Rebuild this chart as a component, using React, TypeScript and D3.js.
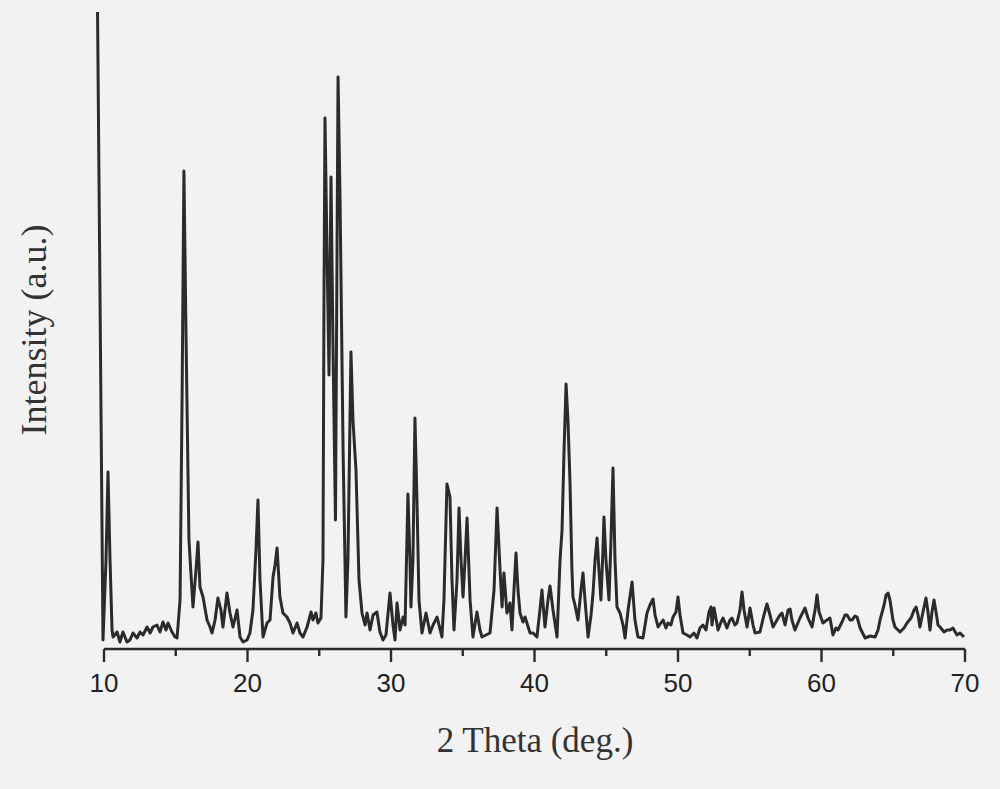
import React from "react";
import * as d3 from "d3";

// 2θ (deg) positions of the sampled points
const twoTheta: number[] = [
  9.55, 9.93, 10.14, 10.28, 10.42, 10.56, 10.63, 10.91, 11.11, 11.32, 11.6, 11.81, 12.02, 12.3, 12.51, 12.72,
  13.0, 13.21, 13.41, 13.69, 13.9, 14.11, 14.32, 14.46, 14.74, 14.95, 15.09, 15.3, 15.44, 15.57, 15.71, 15.92,
  16.2, 16.41, 16.55, 16.69, 16.9, 17.18, 17.39, 17.53, 17.74, 17.94, 18.15, 18.29, 18.57, 18.78, 18.99, 19.27,
  19.48, 19.69, 19.97, 20.17, 20.38, 20.59, 20.73, 20.87, 21.08, 21.36, 21.57, 21.78, 21.92, 22.06, 22.26, 22.47,
  22.75, 22.96, 23.17, 23.45, 23.66, 23.87, 24.15, 24.43, 24.56, 24.77, 24.91, 25.12, 25.26, 25.33, 25.4, 25.54,
  25.68, 25.82, 25.96, 26.13, 26.24, 26.31, 26.45, 26.66, 26.86, 27.0, 27.21, 27.35, 27.42, 27.56, 27.77, 27.98,
  28.19, 28.33, 28.54, 28.75, 29.02, 29.23, 29.44, 29.65, 29.93, 30.14, 30.28, 30.42, 30.63, 30.84, 30.98, 31.18,
  31.32, 31.39, 31.53, 31.67, 31.81, 31.95, 32.16, 32.44, 32.72, 32.93, 33.21, 33.55, 33.69, 33.9, 34.11, 34.25,
  34.39, 34.6, 34.74, 34.88, 35.02, 35.16, 35.3, 35.51, 35.71, 35.99, 36.2, 36.34, 36.62, 36.9, 37.18, 37.39,
  37.6, 37.74, 37.87, 38.08, 38.29, 38.43, 38.57, 38.71, 38.85, 38.99, 39.2, 39.34, 39.69, 39.9, 40.17, 40.38,
  40.52, 40.73, 40.94, 41.08, 41.29, 41.57, 41.78, 41.92, 42.06, 42.2, 42.33, 42.47, 42.61, 42.68, 42.82, 43.03,
  43.24, 43.38, 43.52, 43.73, 43.94, 44.08, 44.22, 44.36, 44.49, 44.63, 44.77, 44.84, 44.98, 45.19, 45.33, 45.47,
  45.61, 45.75, 45.96, 46.17, 46.31, 46.52, 46.8, 47.0, 47.21, 47.56, 47.84, 48.05, 48.26, 48.4, 48.61, 48.96,
  49.16, 49.3, 49.51, 49.65, 49.86, 50.0, 50.14, 50.35, 50.63, 50.84, 51.11, 51.32, 51.53, 51.74, 51.95, 52.16,
  52.3, 52.37, 52.51, 52.79, 53.0, 53.14, 53.41, 53.62, 53.76, 53.97, 54.11, 54.32, 54.46, 54.6, 54.81, 55.02,
  55.23, 55.37, 55.71, 55.99, 56.2, 56.41, 56.62, 56.9, 57.11, 57.25, 57.46, 57.67, 57.81, 57.94, 58.15, 58.5,
  58.85, 59.06, 59.34, 59.55, 59.69, 59.83, 60.1, 60.38, 60.59, 60.8, 61.01, 61.15, 61.43, 61.64, 61.78, 61.99,
  62.13, 62.34, 62.48, 62.69, 63.04, 63.39, 63.74, 63.94, 64.08, 64.36, 64.5, 64.64, 64.77, 64.98, 65.12, 65.33,
  65.47, 65.75, 65.96, 66.24, 66.45, 66.59, 66.73, 66.86, 67.07, 67.28, 67.42, 67.56, 67.7, 67.84, 67.98, 68.12,
  68.26, 68.54, 68.75, 68.96, 69.16, 69.44, 69.65, 69.93,
];

// Intensity (a.u.) at each 2θ
const intensity: number[] = [
  637, 9, 89, 177, 89, 19, 12, 17, 7, 17, 7, 9, 16, 11, 17, 14,
  22, 16, 22, 24, 17, 27, 19, 26, 17, 12, 11, 49, 249, 478, 319, 109,
  42, 79, 107, 62, 52, 29, 22, 16, 29, 51, 39, 22, 56, 36, 22, 39,
  12, 7, 9, 16, 39, 99, 149, 69, 12, 26, 29, 72, 84, 101, 52, 36,
  32, 26, 16, 26, 16, 12, 22, 37, 29, 36, 26, 31, 89, 349, 531, 399,
  274, 472, 299, 129, 399, 572, 449, 199, 32, 89, 297, 229, 212, 179, 69, 36,
  24, 36, 19, 34, 37, 17, 9, 14, 56, 24, 9, 46, 19, 32, 24, 155,
  89, 42, 89, 231, 149, 49, 16, 36, 16, 24, 32, 12, 49, 165, 152, 69,
  19, 69, 141, 89, 52, 89, 131, 49, 12, 37, 19, 12, 14, 16, 59, 141,
  79, 42, 76, 36, 46, 19, 59, 96, 59, 36, 27, 32, 16, 16, 12, 39,
  59, 22, 49, 63, 39, 12, 89, 119, 199, 265, 229, 169, 79, 52, 44, 29,
  59, 76, 49, 12, 34, 56, 89, 111, 79, 49, 99, 132, 89, 49, 109, 181,
  89, 42, 36, 24, 11, 39, 67, 29, 12, 11, 36, 44, 50, 34, 22, 29,
  21, 26, 24, 32, 37, 52, 34, 16, 14, 12, 16, 11, 21, 24, 19, 37,
  42, 24, 41, 19, 27, 31, 21, 29, 31, 24, 26, 39, 57, 39, 22, 41,
  24, 16, 17, 34, 45, 34, 22, 29, 34, 36, 24, 39, 40, 29, 19, 31,
  41, 31, 22, 39, 54, 37, 26, 29, 31, 14, 21, 19, 27, 34, 34, 29,
  29, 33, 32, 21, 11, 13, 12, 19, 29, 44, 54, 56, 49, 29, 22, 19,
  17, 21, 26, 31, 39, 42, 34, 22, 37, 51, 37, 19, 37, 49, 37, 24,
  22, 17, 19, 19, 21, 14, 16, 12,
];

const majorTicks: number[] = [10, 20, 30, 40, 50, 60, 70];
const minorTicks: number[] = [15, 25, 35, 45, 55, 65];
const xTitle = "2 Theta (deg.)";
const yTitle = "Intensity (a.u.)";

export default function App() {
  const W = 1000;
  const H = 789;
  const x = d3.scaleLinear().domain([10, 70]).range([104, 965]);
  const y = d3.scaleLinear().domain([0, 640]).range([649, 9]);
  const pts: [number, number][] = twoTheta.map((t, i) => [t, intensity[i]]);
  const line = d3
    .line<[number, number]>()
    .x((d) => x(d[0]))
    .y((d) => y(d[1]))
    .curve(d3.curveLinear);
  const axisY = y(0);
  const ink = "#2b2b2b";

  return (
    <svg
      width={W}
      height={H}
      style={{ position: "fixed", left: 0, top: 0, display: "block" }}
    >
      <rect x={0} y={0} width={W} height={H} fill="#f2f2f2" />
      <path
        d={line(pts) || ""}
        fill="none"
        stroke={ink}
        strokeWidth={3}
        strokeLinejoin="round"
      />
      <line x1={x(10)} x2={x(70)} y1={axisY} y2={axisY} stroke={ink} strokeWidth={2.4} />
      {majorTicks.map((t) => (
        <g key={"M" + t}>
          <line x1={x(t)} x2={x(t)} y1={axisY} y2={axisY + 13} stroke={ink} strokeWidth={2.4} />
          <text
            x={x(t)}
            y={692}
            textAnchor="middle"
            fontFamily="'Liberation Sans', Arial, sans-serif"
            fontSize={26}
            fill="#222"
          >
            {t}
          </text>
        </g>
      ))}
      {minorTicks.map((t) => (
        <line key={"m" + t} x1={x(t)} x2={x(t)} y1={axisY} y2={axisY + 7} stroke={ink} strokeWidth={2.4} />
      ))}
      <text
        x={535}
        y={752}
        textAnchor="middle"
        fontFamily="'Liberation Serif', 'Times New Roman', serif"
        fontSize={35}
        fill="#333"
      >
        {xTitle}
      </text>
      <text
        transform="translate(46,330) rotate(-90)"
        textAnchor="middle"
        fontFamily="'Liberation Serif', 'Times New Roman', serif"
        fontSize={36}
        fill="#333"
      >
        {yTitle}
      </text>
    </svg>
  );
}
